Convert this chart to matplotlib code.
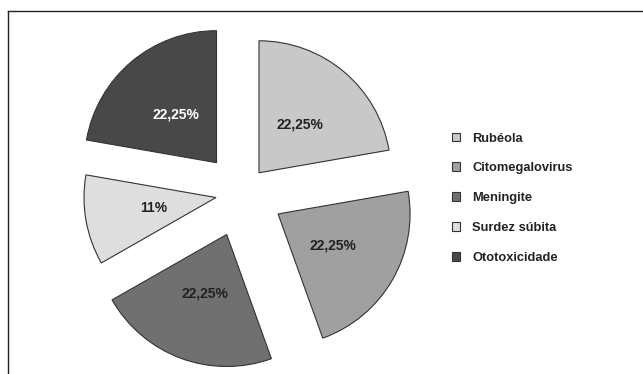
import matplotlib
matplotlib.use("Agg")
import matplotlib.pyplot as plt
from matplotlib.lines import Line2D

plt.rcParams['font.family'] = ['Liberation Sans', 'DejaVu Sans']

# data
categorias = ['Rubéola', 'Citomegalovirus', 'Meningite', 'Surdez súbita', 'Ototoxicidade']
percentuais = [22.25, 22.25, 22.25, 11, 22.25]
cores = ['#c8c8c8', '#a0a0a0', '#707070', '#dedede', '#484848']
cor_texto = ['#222222', '#222222', '#222222', '#222222', '#ffffff']
explode = [0.2, 0.316, 0.335, 0.2, 0.3]


def fmt_pct(p):
    s = '{:g}'.format(round(p, 2)).replace('.', ',')
    return s + '%'


W, H = 643, 374
fig = plt.figure(figsize=(W / 100, H / 100), dpi=100)
ax = fig.add_axes([0, 0, 1, 1])

wedges, texts, autotexts = ax.pie(
    percentuais, colors=cores, explode=explode, startangle=90,
    counterclock=False, autopct=fmt_pct, pctdistance=0.48,
    wedgeprops=dict(edgecolor='#333333', linewidth=0.8),
    textprops=dict(fontsize=10, fontweight='bold'))
for t, c in zip(autotexts, cor_texto):
    t.set_color(c)

# pie centre at (242, 193) px, radius 132 px
R, cx, cy = 132.0, 242.0, 193.0
ax.set_xlim(-cx / R, (W - cx) / R)
ax.set_ylim(-(H - cy) / R, cy / R)
ax.axis('off')

leg = ax.legend(wedges, categorias, loc='upper left',
                bbox_to_anchor=(452 / W, 1 - 132.5 / H),
                bbox_transform=fig.transFigure, frameon=False,
                prop=dict(size=9.3, weight='bold'),
                handlelength=0.65, handleheight=0.65, handletextpad=0.9,
                labelspacing=1.38, borderpad=0, borderaxespad=0)
for txt in leg.get_texts():
    txt.set_color('#222222')

# partial frame (top and left)
fig.add_artist(Line2D([7.5 / W, 1], [1 - 10.5 / H] * 2, transform=fig.transFigure,
                      color='#222222', lw=1.0))
fig.add_artist(Line2D([7.5 / W] * 2, [0, 1 - 10.5 / H], transform=fig.transFigure,
                      color='#222222', lw=1.0))

fig.savefig('out.png', dpi=100, facecolor='white')
